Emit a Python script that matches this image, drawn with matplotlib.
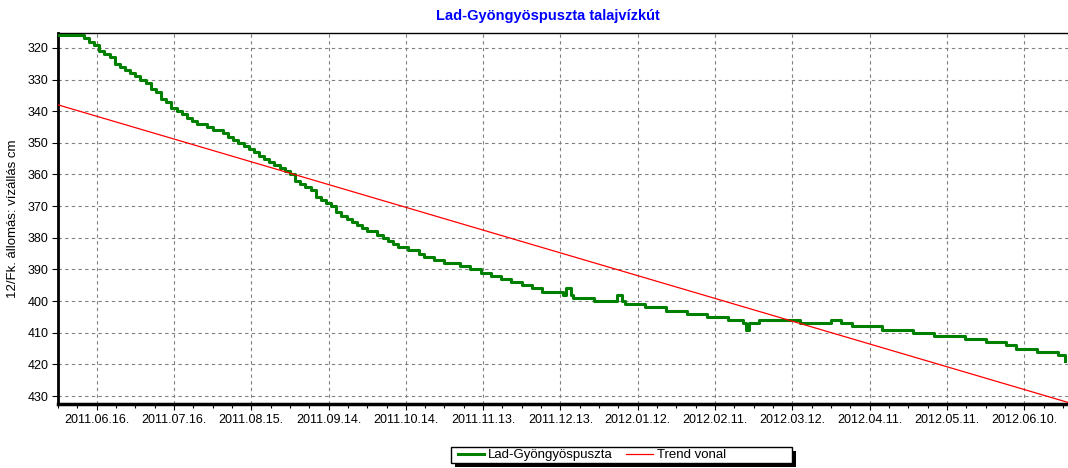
import numpy as np
import matplotlib
matplotlib.use("Agg")
import matplotlib.pyplot as plt
import matplotlib.dates as mdates
from matplotlib.patches import Rectangle
from matplotlib.ticker import FixedLocator

plt.rcParams["font.family"] = ["Liberation Sans", "DejaVu Sans"]

start = np.datetime64("2011-06-01")

# days since 2011-06-01 and water level (cm below surface)
level_days = [0, 2, 4, 6, 8, 10, 12, 14, 16, 18, 20, 22, 24, 26, 28, 30, 32, 34, 36, 38,
              40, 42, 44, 46, 48, 50, 52, 54, 56, 58, 60, 62, 64, 66, 68, 70, 72, 74, 76, 78,
              80, 82, 84, 86, 88, 90, 92, 94, 96, 98, 100, 102, 104, 106, 108, 110, 112, 114,
              116, 118, 120, 122, 124, 126, 128, 130, 132, 134, 136, 138, 140, 142, 144, 146,
              148, 150, 152, 154, 156, 158, 160, 162, 164, 166, 168, 170, 172, 174, 176, 178,
              180, 182, 184, 186, 188, 190, 192, 194, 196, 197, 198, 199,
              200, 204, 208, 212, 216, 217, 218, 219, 220, 224, 228, 232, 236, 240, 244, 248,
              252, 256, 260, 264, 266, 267, 268, 272, 276, 280, 284, 288, 292, 296, 300, 304,
              308, 312, 316, 320, 324, 328, 332, 336, 340, 344, 348, 352, 356, 360, 364, 368,
              372, 376, 380, 384, 388, 391]
level_vals = [316, 316, 316, 316, 316, 317, 318, 319, 321, 322, 323, 325, 326, 327, 328, 329,
              330, 331, 333, 334, 336, 337, 339, 340, 341, 342, 343, 344, 344, 345, 346, 346,
              347, 348, 349, 350, 351, 352, 353, 354, 355, 356, 357, 358, 359, 360, 362, 363,
              364, 365, 367, 368, 369, 370, 372, 373, 374, 375, 376, 377, 378, 378, 379, 380,
              381, 382, 383, 383, 384, 384, 385, 386, 386, 387, 387, 388, 388, 388, 389, 389,
              390, 390, 391, 391, 392, 392, 393, 393, 394, 394, 395, 395, 396, 396, 397, 397,
              397, 397, 398, 396, 396, 398,
              399, 399, 400, 400, 400, 398, 398, 400, 401, 401, 402,
              402, 403, 403, 404, 404, 405, 405, 406, 406, 407, 409, 407, 406, 406, 406, 406,
              407, 407, 407, 406, 407, 408, 408, 408, 409, 409, 409, 410, 410, 411, 411, 411,
              412, 412, 413, 413, 414, 415, 415, 416, 416, 417, 419]

trend_days = [0, 392]
trend_vals = [338.0, 432.0]

tick_labels = ["2011-06-16", "2011-07-16", "2011-08-15", "2011-09-14", "2011-10-14",
               "2011-11-13", "2011-12-13", "2012-01-12", "2012-02-11", "2012-03-12",
               "2012-04-11", "2012-05-11", "2012-06-10"]
y_ticks = [320, 330, 340, 350, 360, 370, 380, 390, 400, 410, 420, 430]

lvl_dates = start + np.array(level_days, dtype="timedelta64[D]")
tr_dates = start + np.array(trend_days, dtype="timedelta64[D]")

W, H = 1068, 468
fig = plt.figure(figsize=(W / 100, H / 100), dpi=100)
ax = fig.add_axes([58 / W, 1 - 404 / H, 1 - 58 / W, (404 - 33) / H])

ax.plot(lvl_dates, level_vals, color="#008000", lw=2.2, drawstyle="steps-post",
        label="Lad-Gyöngyöspuszta", zorder=3)
ax.plot(tr_dates, trend_vals, color="red", lw=0.9, label="Trend vonal", zorder=4)

ax.set_xlim(start, start + np.timedelta64(392, "D"))
ax.set_ylim(432.5, 315.3)

major = mdates.date2num(np.array(tick_labels, dtype="datetime64[D]"))
ax.xaxis.set_major_locator(FixedLocator(major))
ax.xaxis.set_minor_locator(FixedLocator(np.arange(major[0] - 15, major[-1] + 20, 7.5)))
ax.xaxis.set_major_formatter(mdates.DateFormatter("%Y.%m.%d."))
ax.set_yticks(y_ticks)

ax.grid(True, which="major", color="#808080", ls=(0, (3, 3)), lw=0.8)
ax.tick_params(axis="both", which="major", length=4, width=0.8, labelsize=9, pad=3)
ax.tick_params(axis="x", which="minor", length=3, width=0.8)

ax.spines["left"].set_linewidth(2)
ax.spines["bottom"].set_linewidth(2.5)
ax.spines["top"].set_linewidth(1)
ax.spines["right"].set_visible(False)

ax.set_ylabel("12/Fk. állomás: vízállás cm", fontsize=9.5, labelpad=6)
fig.text(548 / W, 1 - 16 / H, "Lad-Gyöngyöspuszta talajvízkút", color="#0000ff",
         fontsize=10.5, fontweight="bold", ha="center", va="center")

# legend box with a hard black drop shadow, wider than its entries
fig.add_artist(Rectangle((455 / W, 1 - 467 / H), 341 / W, 16 / H, transform=fig.transFigure,
                         facecolor="black", edgecolor="black", lw=0, zorder=5))
fig.add_artist(Rectangle((451 / W, 1 - 463 / H), 341 / W, 16 / H, transform=fig.transFigure,
                         facecolor="white", edgecolor="black", lw=1, zorder=6))
leg = fig.legend(loc="center left", bbox_to_anchor=(458 / W, 1 - 455 / H), ncol=2,
                 fontsize=9.5, frameon=False, handlelength=2.0, columnspacing=1.0,
                 borderpad=0.0, handletextpad=0.3, borderaxespad=0)
leg.set_zorder(7)

fig.savefig("out.png", dpi=100)
